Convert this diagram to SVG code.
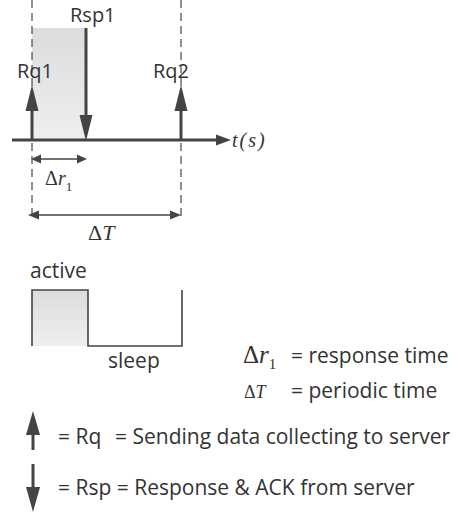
<svg xmlns="http://www.w3.org/2000/svg" width="462" height="514" viewBox="0 0 462 514">
  <style>
    .lbl { font-family: "Open Sans", "Liberation Sans", sans-serif; font-size: 21px; fill: #333333; }
    .tag { font-family: "Open Sans", "Liberation Sans", sans-serif; font-size: 20px; fill: #333333; }
    .math { font-family: "Liberation Serif", "DejaVu Serif", serif; fill: #333333; }
    .it { font-style: italic; }
    .dash { stroke: #555; stroke-width: 1.3; stroke-dasharray: 8 5; fill: none; }
    .shaft { stroke: #444444; stroke-width: 3; fill: none; }
    .thin { stroke: #444444; stroke-width: 1.6; fill: none; }
    .head { fill: #444444; }
    .wave { stroke: #444444; stroke-width: 1.6; fill: none; }
  </style>
  <defs>
    <linearGradient id="shade" x1="0" y1="0" x2="0" y2="1">
      <stop offset="0" stop-color="#dcdcdc"/>
      <stop offset="1" stop-color="#efefef"/>
    </linearGradient>
  </defs>

  <rect width="462" height="514" fill="#ffffff"/>

  <!-- active interval shading on the timeline -->
  <rect x="32" y="28" width="54" height="112" fill="url(#shade)"/>

  <!-- period boundaries -->
  <g id="bounds">
    <line class="dash" x1="32" y1="0" x2="32" y2="216"/>
    <line class="dash" x1="181" y1="0" x2="181" y2="216"/>
  </g>

  <!-- connectors: time axis, request/response arrows, interval markers -->
  <g id="connectors">
    <line class="shaft" x1="12" y1="140" x2="220" y2="140"/>
    <polygon class="head" points="231,140 216,134.5 216,145.5"/>

    <line class="shaft" x1="32" y1="140" x2="32" y2="108"/>
    <polygon class="head" points="32,85 25.5,111 38.5,111"/>

    <line class="shaft" x1="181" y1="140" x2="181" y2="108"/>
    <polygon class="head" points="181,85 174.5,111 187.5,111"/>

    <line class="shaft" x1="86" y1="28" x2="86" y2="117"/>
    <polygon class="head" points="86,141 79.5,115 92.5,115"/>

    <line class="thin" x1="38" y1="159" x2="80" y2="159"/>
    <polygon class="head" points="31,159 41,154.5 41,163.5"/>
    <polygon class="head" points="87,159 77,154.5 77,163.5"/>

    <line class="thin" x1="37" y1="215" x2="176" y2="215"/>
    <polygon class="head" points="28,215 39,210.5 39,219.5"/>
    <polygon class="head" points="181,215 170,210.5 170,219.5"/>
  </g>

  <g id="rsp1"><text class="tag" x="70" y="22">Rsp1</text></g>
  <g id="rq1"><text class="tag" x="17" y="78">Rq1</text></g>
  <g id="rq2"><text class="tag" x="153" y="78">Rq2</text></g>
  <g id="axis-label"><text class="math it" x="232" y="147" font-size="20" letter-spacing="2">t(s)</text></g>

  <g id="dr1-label">
    <text class="math" x="45" y="185" font-size="20">Δ<tspan class="it">r</tspan><tspan font-size="13" dy="6">1</tspan></text>
  </g>
  <g id="dT-label">
    <text class="math" x="88" y="240" font-size="22">Δ<tspan class="it">T</tspan></text>
  </g>

  <!-- active / sleep power profile -->
  <g id="profile">
    <rect x="32" y="290" width="56" height="56" fill="url(#shade)"/>
    <polyline class="wave" points="32,346 32,290 88,290 88,346 182,346 182,290"/>
    <text class="lbl" x="30" y="278">active</text>
    <text class="lbl" x="108" y="368">sleep</text>
  </g>

  <!-- legend -->
  <g id="legend-dr1">
    <text class="math" x="243" y="363" font-size="25">Δ<tspan class="it">r</tspan><tspan font-size="15" dy="6">1</tspan></text>
    <text class="lbl" x="291" y="363">= response time</text>
  </g>
  <g id="legend-dT">
    <text class="math" x="244" y="398" font-size="18">Δ<tspan class="it">T</tspan></text>
    <text class="lbl" x="291" y="398">= periodic time</text>
  </g>
  <g id="legend-rq">
    <line class="shaft" x1="33" y1="450" x2="33" y2="432"/>
    <polygon class="head" points="33,411 26,435 40,435"/>
    <text class="lbl" x="58" y="444">= Rq</text>
    <text class="lbl" x="115" y="444">= Sending data collecting to server</text>
  </g>
  <g id="legend-rsp">
    <line class="shaft" x1="33" y1="464" x2="33" y2="490"/>
    <polygon class="head" points="33,512 26,487 40,487"/>
    <text class="lbl" x="58" y="495">= Rsp = Response &amp; ACK from server</text>
  </g>
</svg>
